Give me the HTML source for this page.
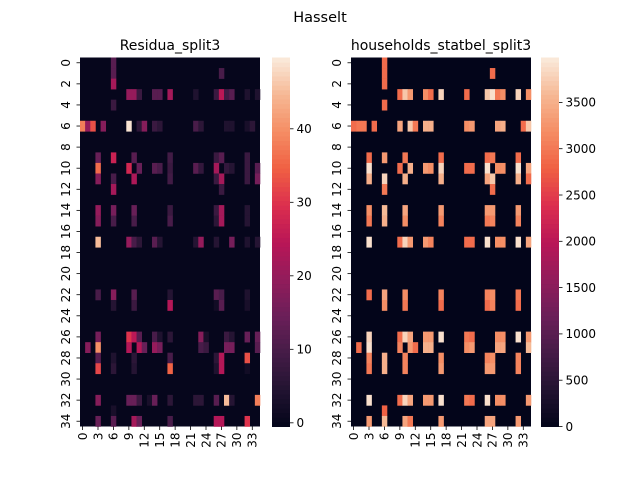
<!DOCTYPE html>
<html><head><meta charset="utf-8">
<style>
html,body{margin:0;padding:0;background:#fff;}
svg{display:block;font-family:"DejaVu Sans","Liberation Sans",sans-serif;}
</style></head>
<body>
<svg id="fig" width="640" height="480" viewBox="0 0 640 480" xmlns="http://www.w3.org/2000/svg">
<text x="320" y="22" font-size="14.5" text-anchor="middle">Hasselt</text>
<g id="left"></g>
<g id="right"></g>
</svg>
<script>
const nRows = 35;
const nCols = 35;
const xTickLabels = ["0","3","6","9","12","15","18","21","24","27","30","33"];
const yTickLabels = ["0","2","4","6","8","10","12","14","16","18","20","22","24","26","28","30","32","34"];
const residuaTicks = [0,10,20,30,40];
const householdsTicks = [0,500,1000,1500,2000,2500,3000,3500];
const residuaRange = [-0.5, 49.7];
const householdsRange = [0, 3985];
// [row, col, value]
const residuaCells = [
[0,6,12],[1,6,12],[1,27,10],[2,6,22],
[3,9,20],[3,10,20],[3,11,8],[3,14,12],[3,15,12],[3,17,22],[3,22,4],[3,26,8],[3,27,25],[3,28,9],[3,29,12],[3,32,4],[3,34,4],
[4,6,8],
[6,0,38],[6,1,20],[6,2,33],[6,4,18],[6,9,49],[6,11,6],[6,12,18],[6,14,8],[6,15,6],[6,22,10],[6,23,6],[6,28,4],[6,29,4],[6,32,3],[6,33,6],
[9,3,14],[9,6,27],[9,10,12],[9,17,9],[9,26,8],[9,27,12],[9,32,8],
[10,3,36],[10,9,28],[10,11,14],[10,14,12],[10,15,10],[10,17,8],[10,22,12],[10,23,7],[10,26,22],[10,28,7],[10,29,5],[10,32,8],[10,34,12],
[11,3,18],[11,6,10],[11,10,23],[11,17,9],[11,26,8],[11,27,22],[11,32,8],[11,34,16],
[12,6,22],[12,27,8],
[14,3,20],[14,6,16],[14,10,14],[14,17,8],[14,26,8],[14,27,22],[14,32,5],
[15,3,18],[15,6,10],[15,10,10],[15,17,10],[15,26,6],[15,27,22],[15,32,5],
[17,3,45],[17,9,20],[17,10,10],[17,11,6],[17,14,12],[17,15,5],[17,22,5],[17,23,20],[17,26,5],[17,29,16],[17,32,4],[17,34,5],
[22,3,10],[22,6,18],[22,10,12],[22,17,5],[22,26,12],[22,27,10],[22,32,4],
[23,6,5],[23,10,8],[23,17,24],[23,26,2],[23,27,12],[23,32,3],
[26,3,16],[26,9,30],[26,10,25],[26,11,12],[26,14,10],[26,15,4],[26,17,6],[26,23,18],[26,24,3],[26,28,8],[26,29,5],[26,32,14],[26,34,14],
[27,1,18],[27,3,40],[27,9,24],[27,11,24],[27,12,14],[27,14,20],[27,15,16],[27,23,10],[27,24,8],[27,28,16],[27,29,16],[27,34,12],
[28,3,12],[28,6,4],[28,10,6],[28,17,10],[28,26,6],[28,27,24],[28,32,33],
[29,3,32],[29,6,6],[29,10,5],[29,17,35],[29,26,4],[29,27,24],[29,32,2],
[32,3,18],[32,9,14],[32,10,14],[32,11,8],[32,13,3],[32,14,14],[32,17,6],[32,22,6],[32,23,6],[32,26,12],[32,28,45],[32,29,5],[32,34,38],
[33,6,3],
[34,3,14],[34,6,12],[34,10,22],[34,11,14],[34,17,10],[34,26,24],[34,27,24],[34,32,30]
];
const householdsCells = [
[0,6,2900],[1,6,2900],[1,27,2900],[2,6,2900],
[3,9,2900],[3,10,3700],[3,11,3300],[3,14,3200],[3,15,2900],[3,17,3800],[3,22,2900],[3,26,3700],[3,27,3900],[3,28,3000],[3,29,3200],[3,32,3800],[3,34,3200],
[4,6,2900],
[6,0,2900],[6,1,3000],[6,2,3000],[6,4,2900],[6,9,3400],[6,11,3700],[6,12,3000],[6,14,3500],[6,15,3500],[6,22,3200],[6,23,3300],[6,28,3400],[6,29,3500],[6,33,2900],[6,34,3700],
[9,3,2900],[9,6,3300],[9,10,3000],[9,17,2900],[9,26,2900],[9,27,3000],[9,32,2900],
[10,3,3900],[10,9,2900],[10,11,3500],[10,14,3300],[10,15,3200],[10,17,3800],[10,22,2900],[10,23,2900],[10,26,3900],[10,28,3200],[10,29,3200],[10,32,3900],[10,34,3400],
[11,3,3500],[11,6,3800],[11,10,3500],[11,17,3500],[11,26,3400],[11,27,3700],[11,32,3500],[11,34,2900],
[12,6,3000],[12,27,2900],
[14,3,3200],[14,6,3600],[14,10,3400],[14,17,3300],[14,26,3300],[14,27,3300],[14,32,3300],
[15,3,3000],[15,6,3500],[15,10,3200],[15,17,3100],[15,26,3000],[15,27,3100],[15,32,3100],
[17,3,3900],[17,9,2900],[17,10,3800],[17,11,3300],[17,14,3300],[17,15,3100],[17,22,2900],[17,23,2900],[17,26,3900],[17,28,3200],[17,29,3200],[17,32,3900],[17,34,3400],
[22,3,2900],[22,6,3400],[22,10,3200],[22,17,3100],[22,26,3100],[22,27,3200],[22,32,3000],
[23,6,3200],[23,10,3000],[23,17,2900],[23,26,2900],[23,27,3100],[23,32,2900],
[26,3,3800],[26,9,2900],[26,10,3800],[26,11,3400],[26,14,3300],[26,15,3300],[26,17,3900],[26,22,3000],[26,23,2900],[26,28,3200],[26,29,3200],[26,32,3900],[26,34,3300],
[27,1,2900],[27,3,3900],[27,9,3100],[27,11,3300],[27,12,2900],[27,14,3500],[27,15,3500],[27,22,3200],[27,23,3300],[27,28,3400],[27,29,3400],[27,34,3600],
[28,3,3100],[28,6,3500],[28,10,3100],[28,17,3200],[28,26,3100],[28,27,3200],[28,32,3100],
[29,3,3000],[29,6,3500],[29,10,3100],[29,17,3300],[29,26,3300],[29,27,3300],[29,32,3100],
[32,3,3900],[32,9,2900],[32,10,3800],[32,11,3400],[32,14,3300],[32,15,3300],[32,17,3900],[32,22,3000],[32,23,2900],[32,26,3900],[32,28,3200],[32,29,3200],[32,34,3300],
[33,6,2800],
[34,3,3300],[34,6,3600],[34,10,3400],[34,11,3000],[34,17,3300],[34,26,3400],[34,27,3400],[34,32,3300]
];

const NS = "http://www.w3.org/2000/svg";
const stops = ["#03051a","#221331","#451c47","#6b1f59","#921c5b","#b91657","#dc2f4e","#f06043","#f58d64","#f6b894","#faebdd"];
function hex(h){return [parseInt(h.substr(1,2),16),parseInt(h.substr(3,2),16),parseInt(h.substr(5,2),16)];}
function cmap(t){
  t=Math.max(0,Math.min(1,t));
  const p=t*(stops.length-1), i=Math.min(Math.floor(p),stops.length-2), f=p-i;
  const a=hex(stops[i]), b=hex(stops[i+1]);
  return "rgb("+a.map((v,k)=>Math.round(v+(b[k]-v)*f)).join(",")+")";
}
function mk(tag, attrs, parent){
  const e=document.createElementNS(NS,tag);
  for(const k in attrs) e.setAttribute(k,attrs[k]);
  parent.appendChild(e); return e;
}
const TF = "12";
function drawPanel(g, x0, title, cells, range, ticks, cbX){
  const y0=57.5, w=180, h=369;
  const cw=w/nCols, ch=h/nRows;
  const xs=c=>x0+c*cw, ys=r=>y0+r*ch;
  const norm=v=>(v-range[0])/(range[1]-range[0]);
  const t=mk("text",{x:x0+w/2,y:50,"font-size":"14","text-anchor":"middle"},g);
  t.textContent=title;
  
  
  const bg=mk("rect",{x:x0,y:y0,width:w,height:h,fill:cmap(norm(0))},g);
  
  
  cells.forEach(d=>{
    const r=mk("rect",{x:xs(d[1]),y:ys(d[0]),width:cw+0.3,height:ch+0.3,fill:cmap(norm(d[2]))},g);
    
    
  });
  xTickLabels.forEach(l=>{
    const c=+l, cx=xs(c+0.5);
    const tk=mk("line",{x1:cx,y1:y0+h,x2:cx,y2:y0+h+3.5,stroke:"#000","stroke-width":"0.8"},g);
    
    
    const tx=mk("text",{x:0,y:0,"font-size":TF,"text-anchor":"end",transform:"translate("+(cx+4.3)+","+(y0+h+6)+") rotate(-90)"},g);
    tx.textContent=l;
    
    
  });
  yTickLabels.forEach(l=>{
    const r=+l, cy=ys(r+0.5);
    const tk=mk("line",{x1:x0-3.5,y1:cy,x2:x0,y2:cy,stroke:"#000","stroke-width":"0.8"},g);
    
    
    const tx=mk("text",{x:0,y:0,"font-size":TF,"text-anchor":"middle",transform:"translate("+(x0-10)+","+cy+") rotate(-90)"},g);
    tx.textContent=l;
    
    
  });
  const cbw=18, n=80;
  const cy=v=>y0+h-(v-range[0])/(range[1]-range[0])*h;
  for(let i=0;i<n;i++){
    const rr=mk("rect",{x:cbX,y:y0+h-(i+1)*h/n,width:cbw,height:h/n+0.5,fill:cmap((i+0.5)/n)},g);
    
    
  }
  ticks.forEach(v=>{
    const yy=cy(v);
    const tk=mk("line",{x1:cbX+cbw,y1:yy,x2:cbX+cbw+3.5,y2:yy,stroke:"#000","stroke-width":"0.8"},g);
    
    
    const tx=mk("text",{x:cbX+cbw+6.5,y:yy+4.3,"font-size":TF},g);
    tx.textContent=String(v);
    
    
  });
}
drawPanel(document.getElementById('left'),80,"Residua_split3",residuaCells,residuaRange,residuaTicks,272);
drawPanel(document.getElementById('right'),351,"households_statbel_split3",householdsCells,householdsRange,householdsTicks,541);
</script>
</body></html>
